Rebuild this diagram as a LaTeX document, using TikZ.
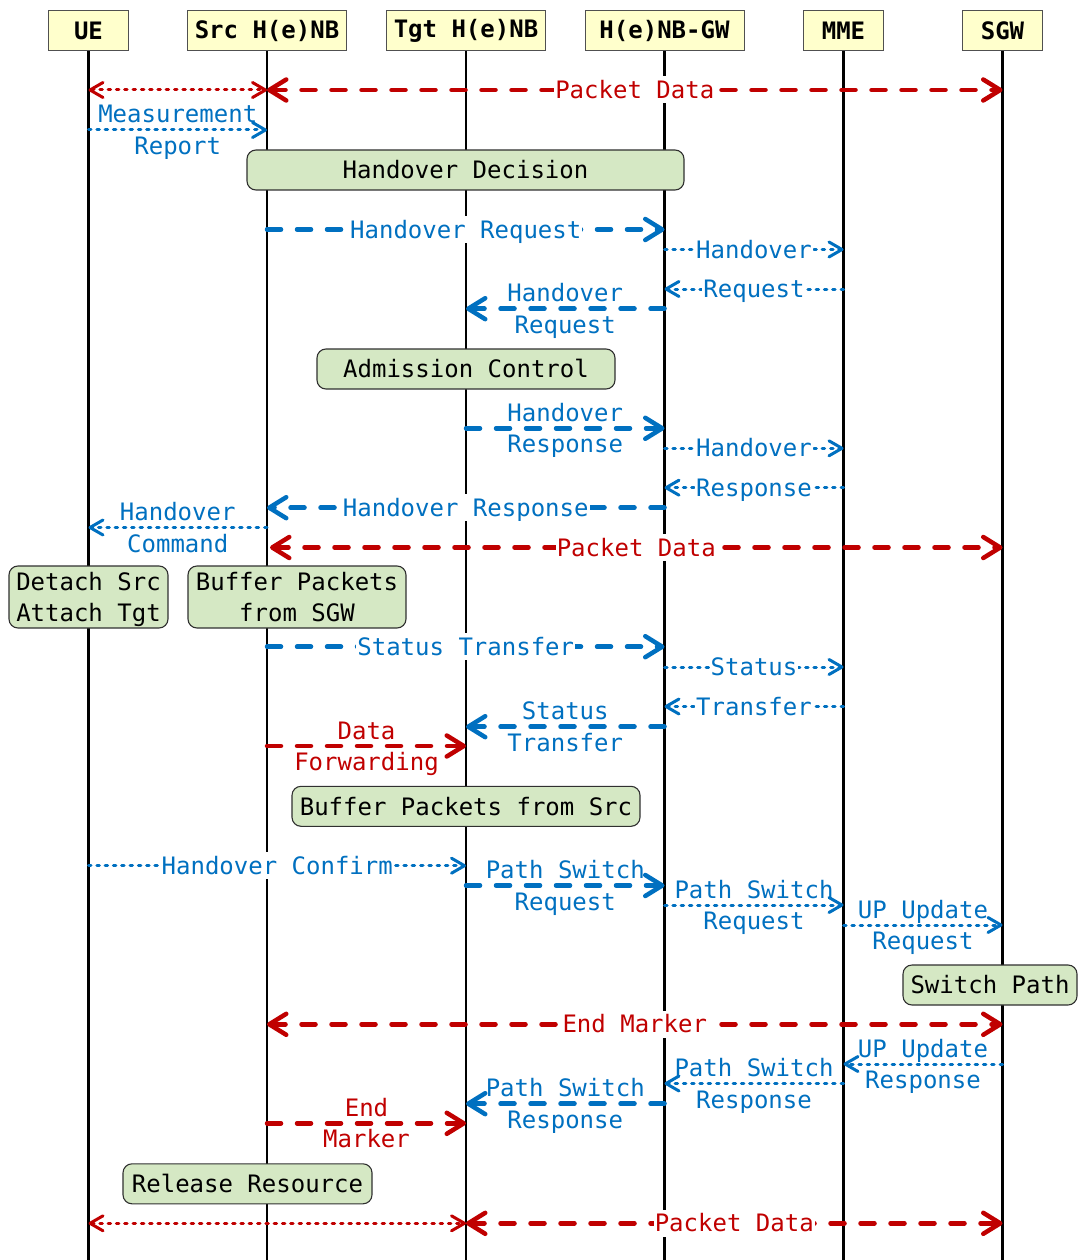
\documentclass[tikz,border=0pt]{standalone}
\usepackage{fontspec}
\newfontfamily\seqfont{DejaVu Sans Mono}
\usetikzlibrary{arrows.meta}
\definecolor{msgred}{HTML}{C00000}
\definecolor{msgblue}{HTML}{0070C0}
\definecolor{headfill}{HTML}{FFFFCC}
\definecolor{procfill}{HTML}{D5E8C4}
\definecolor{edgegray}{HTML}{505050}
% two text lines with fixed struts, so the block centre sits between the lines
\newcommand{\twol}[2]{\rule[-6.5pt]{0pt}{30.5pt}#1\\\rule[-6.5pt]{0pt}{30.5pt}#2}

\tikzset{
  bigbarb/.tip={Straight Barb[length=17pt,width=21pt,round]},
  smallbarb/.tip={Straight Barb[length=13pt,width=15pt,round]},
}

\begin{document}
\begin{tikzpicture}[x=1pt,y=-1pt,
  every node/.style={font=\seqfont\fontsize{24}{31.5}\selectfont},
  head/.style={draw=edgegray, fill=headfill, line width=1pt, inner sep=0pt,
    minimum height=40pt, font=\seqfont\bfseries\fontsize{24}{31.5}\selectfont},
  proc/.style={draw=edgegray!60!black, fill=procfill, line width=1.1pt, rounded corners=9pt,
    inner sep=0pt, align=center, text height=17.5pt, text depth=0pt},
  proctwo/.style={draw=edgegray!60!black, fill=procfill, line width=1.1pt, rounded corners=9pt,
    inner sep=0pt, align=center},
  lifeline/.style={line width=2.3pt, black},
  dashmsg/.style={line width=4.5pt, dash pattern=on 14pt off 16pt, line cap=round},
  dotmsg/.style={line width=3pt, dash pattern=on 2.5pt off 5.8pt, line cap=round},
  inl/.style={fill=white, inner xsep=1pt, inner ysep=1pt, text height=21pt, text depth=4pt},
  two/.style={align=center, inner sep=0pt},
]
\useasboundingbox (0,0) rectangle (1078,1260);

% participants
\node[head, minimum width=80pt]  (ue)  at (88.5,31)  {UE};
\node[head, minimum width=159pt] (src) at (267,31)   {Src H(e)NB};
\node[head, minimum width=159pt] (tgt) at (466,31)   {Tgt H(e)NB};
\node[head, minimum width=159pt] (gw)  at (664.5,31) {H(e)NB-GW};
\node[head, minimum width=80pt]  (mme) at (843.5,31) {MME};
\node[head, minimum width=80pt]  (sgw) at (1002.5,31){SGW};

% message rows
\coordinate (bot) at (0,1260);
\coordinate (r1)  at (0,90);
\coordinate (r2)  at (0,130);
\coordinate (r3)  at (0,229.5);
\coordinate (r4)  at (0,249.5);
\coordinate (r5)  at (0,289);
\coordinate (r6)  at (0,308.7);
\coordinate (r7)  at (0,428.3);
\coordinate (r8)  at (0,448.3);
\coordinate (r9)  at (0,487.7);
\coordinate (r10) at (0,507.7);
\coordinate (r11) at (0,527.5);
\coordinate (r12) at (0,547.5);
\coordinate (r13) at (0,646.7);
\coordinate (r14) at (0,667);
\coordinate (r15) at (0,706.5);
\coordinate (r16) at (0,726.7);
\coordinate (r17) at (0,746);
\coordinate (r18) at (0,865.7);
\coordinate (r19) at (0,885.5);
\coordinate (r20) at (0,905);
\coordinate (r21) at (0,925);
\coordinate (r22) at (0,1024.3);
\coordinate (r23) at (0,1064);
\coordinate (r24) at (0,1083.5);
\coordinate (r25) at (0,1103.7);
\coordinate (r26) at (0,1123.3);
\coordinate (r27) at (0,1223.3);

% lifelines
\foreach \p in {ue,src,tgt,gw,mme,sgw}
  \draw[lifeline] (\p.south) -- (\p |- bot);

% messages
\draw[dotmsg, msgred, {smallbarb}-{smallbarb}] (ue |- r1) -- (src |- r1);
\draw[dashmsg, msgred, {bigbarb}-{bigbarb}] (src |- r1) -- (sgw |- r1)
  node[inl, midway] {Packet Data};
\draw[dotmsg, msgblue, -{smallbarb}] (ue |- r2) -- (src |- r2)
  node[two, midway] {\twol{Measurement}{Report}};

\draw[dashmsg, msgblue, -{bigbarb}] (src |- r3) -- (gw |- r3)
  node[inl, midway] {Handover Request};
\draw[dotmsg, msgblue, -{smallbarb}] (gw |- r4) -- (mme |- r4)
  node[inl, midway] {Handover};
\draw[dotmsg, msgblue, -{smallbarb}] (mme |- r5) -- (gw |- r5)
  node[inl, midway] {Request};
\draw[dashmsg, msgblue, -{bigbarb}] (gw |- r6) -- (tgt |- r6)
  node[two, midway] {\twol{Handover}{Request}};

\draw[dashmsg, msgblue, -{bigbarb}] (tgt |- r7) -- (gw |- r7)
  node[two, midway] {\twol{Handover}{Response}};
\draw[dotmsg, msgblue, -{smallbarb}] (gw |- r8) -- (mme |- r8)
  node[inl, midway] {Handover};
\draw[dotmsg, msgblue, -{smallbarb}] (mme |- r9) -- (gw |- r9)
  node[inl, midway] {Response};
\draw[dashmsg, msgblue, -{bigbarb}] (gw |- r10) -- (src |- r10)
  node[inl, midway] {Handover Response};
\draw[dotmsg, msgblue, -{smallbarb}] (src |- r11) -- (ue |- r11)
  node[two, midway] {\twol{Handover}{Command}};
\draw[dashmsg, msgred, {bigbarb}-{bigbarb}] ([xshift=3pt]src |- r12) -- (sgw |- r12)
  node[inl, midway] {Packet Data};

\draw[dashmsg, msgblue, -{bigbarb}] (src |- r13) -- (gw |- r13)
  node[inl, midway] {Status Transfer};
\draw[dotmsg, msgblue, -{smallbarb}] (gw |- r14) -- (mme |- r14)
  node[inl, midway] {Status};
\draw[dotmsg, msgblue, -{smallbarb}] (mme |- r15) -- (gw |- r15)
  node[inl, midway] {Transfer};
\draw[dashmsg, msgblue, -{bigbarb}] (gw |- r16) -- (tgt |- r16)
  node[two, midway] {\twol{Status}{Transfer}};
\draw[dashmsg, msgred, -{bigbarb}] (src |- r17) -- (tgt |- r17)
  node[two, midway] {\twol{Data}{Forwarding}};

\draw[dotmsg, msgblue, -{smallbarb}] (ue |- r18) -- (tgt |- r18)
  node[inl, midway] {Handover Confirm};
\draw[dashmsg, msgblue, -{bigbarb}] (tgt |- r19) -- (gw |- r19)
  node[two, midway] {\twol{Path Switch}{Request}};
\draw[dotmsg, msgblue, -{smallbarb}] (gw |- r20) -- (mme |- r20)
  node[two, midway] {\twol{Path Switch}{Request}};
\draw[dotmsg, msgblue, -{smallbarb}] (mme |- r21) -- (sgw |- r21)
  node[two, midway] {\twol{UP Update}{Request}};

\draw[dashmsg, msgred, {bigbarb}-{bigbarb}] (src |- r22) -- (sgw |- r22)
  node[inl, midway] {End Marker};
\draw[dotmsg, msgblue, -{smallbarb}] (sgw |- r23) -- (mme |- r23)
  node[two, midway] {\twol{UP Update}{Response}};
\draw[dotmsg, msgblue, -{smallbarb}] (mme |- r24) -- (gw |- r24)
  node[two, midway] {\twol{Path Switch}{Response}};
\draw[dashmsg, msgblue, -{bigbarb}] (gw |- r25) -- (tgt |- r25)
  node[two, midway] {\twol{Path Switch}{Response}};
\draw[dashmsg, msgred, -{bigbarb}] (src |- r26) -- (tgt |- r26)
  node[two, midway] {\twol{End}{Marker}};

\draw[dotmsg, msgred, {smallbarb}-{smallbarb}] (ue |- r27) -- (tgt |- r27);
\draw[dashmsg, msgred, {bigbarb}-{bigbarb}] (tgt |- r27) -- (sgw |- r27)
  node[inl, midway] {Packet Data};

% processing steps
\node[proc, minimum width=437pt, minimum height=40pt] (hodec) at (465.5,170) {Handover Decision};
\node[proc, minimum width=298pt, minimum height=40pt] (admctl) at (466,369) {Admission Control};
\node[proctwo, minimum width=159pt, minimum height=60pt] (detach) at (88.5,597) {\twol{Detach Src}{Attach Tgt}};
\node[proctwo, minimum width=218pt, minimum height=60pt] (bufsgw) at (297,597) {\twol{Buffer Packets}{from SGW}};
\node[proc, minimum width=348pt, minimum height=40pt] (bufsrc) at (466,806.3) {Buffer Packets from Src};
\node[proc, minimum width=174pt, minimum height=40pt] (swpath) at (990,985) {Switch Path};
\node[proc, minimum width=249pt, minimum height=40pt] (relres) at (247.5,1183.8) {Release Resource};

\end{tikzpicture}
\end{document}
